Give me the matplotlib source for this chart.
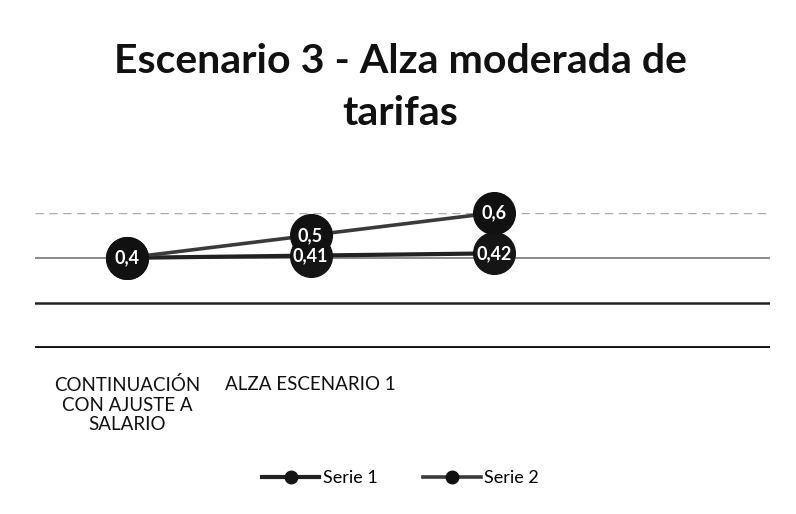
import matplotlib.pyplot as plt

categories = ["CONTINUACIÓN\nCON AJUSTE A\nSALARIO", "ALZA ESCENARIO 1", "", ""]
serie1 = [0.4, 0.41, 0.42]
serie2 = [0.4, 0.5, 0.6]
labels1 = ["0,4", "0,41", "0,42"]
labels2 = ["0,4", "0,5", "0,6"]
yticks = [0.0, 0.2, 0.4, 0.6]

plt.rcParams['font.family'] = ['Lato', 'DejaVu Sans']

fig = plt.figure(figsize=(7.96, 5.14), dpi=100)
ax = fig.add_axes([0.044, 0.323, 0.923, 0.263])

x = list(range(len(categories)))
ax.plot(x[:len(serie1)], serie1, color='#222222', lw=3.0, marker='o', ms=30,
        mfc='#151515', mec='#151515', label='Serie 1', clip_on=False, zorder=3)
ax.plot(x[:len(serie2)], serie2, color='#3a3a3a', lw=2.6, marker='o', ms=30,
        mfc='#111111', mec='#111111', label='Serie 2', clip_on=False, zorder=4)

for xi, v, t in zip(x, serie1, labels1):
    ax.text(xi, v, t, color='white', ha='center', va='center', fontsize=13,
            fontweight='bold', zorder=5)
for xi, v, t in zip(x[1:], serie2[1:], labels2[1:]):
    ax.text(xi, v, t, color='white', ha='center', va='center', fontsize=13,
            fontweight='bold', zorder=5)

ax.set_xlim(-0.5, len(categories) - 0.5)
ax.set_ylim(0, 0.6)
ax.set_yticks(yticks)
ax.set_yticklabels([])
ax.tick_params(axis='y', length=0)
ax.set_xticks(x)
ax.set_xticklabels(categories, fontsize=13.5, color='#111111', linespacing=1.2)
ax.tick_params(axis='x', length=0, pad=20)
for spine in ax.spines.values():
    spine.set_visible(False)

ax.grid(axis='y', zorder=0)
grid_styles = [('#111111', 2.8, '-'), ('#222222', 1.8, '-'),
               ('#777777', 1.2, '-'), ('#aaaaaa', 1.0, (0, (6, 4)))]
for gl, (c, w, ls) in zip(ax.get_ygridlines(), grid_styles):
    gl.set_color(c)
    gl.set_linewidth(w)
    gl.set_linestyle(ls)

fig.text(0.503, 0.829, "Escenario 3 - Alza moderada de\ntarifas", ha='center',
         va='center', fontsize=29.5, fontweight='bold', color='#111111',
         linespacing=1.5)

leg = fig.legend(loc='center', bbox_to_anchor=(0.503, 0.07), ncol=2,
                 frameon=False, fontsize=13, markerscale=0.3,
                 handlelength=3.2, columnspacing=2.5, handletextpad=0.2)

fig.savefig('out.png', dpi=100)
